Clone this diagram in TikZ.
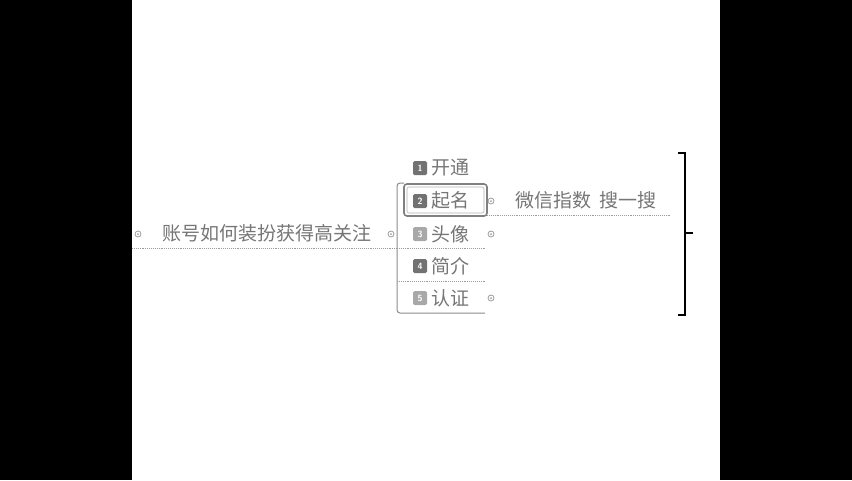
\documentclass[tikz,border=0pt]{standalone}
\usepackage{fontspec}
\newfontfamily\cjk{Noto Sans CJK SC}
\usetikzlibrary{calc}
\definecolor{txtgray}{HTML}{767676}
\definecolor{linegray}{HTML}{9C9C9C}
\definecolor{badgedark}{HTML}{727272}
\definecolor{badgelight}{HTML}{A8A8A8}
\tikzset{
	topic/.style={font=\cjk\fontsize{19}{19}\selectfont, text=txtgray, inner sep=0pt},
	badge/.style={fill=#1, rounded corners=1.5pt, minimum size=14pt, inner sep=0pt, text=white, font=\sffamily\bfseries\fontsize{9}{9}\selectfont},
	knob/.style={draw=linegray, circle, inner sep=0pt, minimum size=6pt, line width=0.8pt},
	uline/.style={draw=linegray, line width=0.9pt, densely dotted},
}

\begin{document}
\begin{tikzpicture}[x=1pt,y=-1pt]
			%%%%% START %%%%%
			\useasboundingbox (0, 0) rectangle (852, 480);
			\fill[white] (0, 0) rectangle (852, 480);
			\fill[black] (0, 0) rectangle (132, 480);
			\fill[black] (720, 0) rectangle (852, 480);
			
			% root topic
			\node[topic] (root) at (267, 233) {账号如何装扮获得高关注};
			\node[knob] (rootl) at (138, 234) {};
			\node[knob] (rootr) at (391, 234) {};
			\fill[linegray] (rootl) circle (1);
			\fill[linegray] (rootr) circle (1);
			\draw[uline] (132, 248) -- (397, 248);
			
			% branch line
			\draw[line width=1pt, color=black!45, rounded corners=3pt] (404, 183) -- (397, 183) -- (397, 313) -- (485, 313);
			\draw[uline] (397, 248) -- (485, 248);
			\draw[uline] (397, 281) -- (485, 281);
			
			% sub topics
			\node[badge=badgedark] (b1) at (420, 168) {1};
			\node[topic, anchor=west] (kaitong) at (431, 168) {开通};
			
			\draw[line width=1.6pt, color=black!50, rounded corners=3pt] (404, 184) rectangle (487, 216);
			\draw[line width=0.6pt, color=black!30, rounded corners=2pt] (407, 187) rectangle (484, 213);
			\node[badge=badgedark] (b2) at (420, 201) {2};
			\node[topic, anchor=west] (qiming) at (431, 200) {起名};
			
			\node[badge=badgelight] (b3) at (420, 234) {3};
			\node[topic, anchor=west] (touxiang) at (431, 234) {头像};
			
			\node[badge=badgedark] (b4) at (420, 266) {4};
			\node[topic, anchor=west] (jianjie) at (431, 266) {简介};
			
			\node[badge=badgelight] (b5) at (420, 298) {5};
			\node[topic, anchor=west] (renzheng) at (431, 298) {认证};
			
			\node[knob] (k2) at (491, 201) {};
			\node[knob] (k3) at (491, 234) {};
			\node[knob] (k5) at (491, 298) {};
			\fill[linegray] (k2) circle (1);
			\fill[linegray] (k3) circle (1);
			\fill[linegray] (k5) circle (1);
			
			% second level
			\node[topic, anchor=west] (zhishu) at (515, 200) {微信指数\hspace{8pt}搜一搜};
			\draw[uline] (487, 215) -- (670, 215);
			
			% bracket
			\draw[line width=2pt, color=black] (678, 153) -- (685, 153) -- (685, 315) -- (678, 315);
			\draw[line width=1.5pt, color=black] (685, 233) -- (693, 233);
			%%%%% END %%%%%
\end{tikzpicture}
\end{document}
